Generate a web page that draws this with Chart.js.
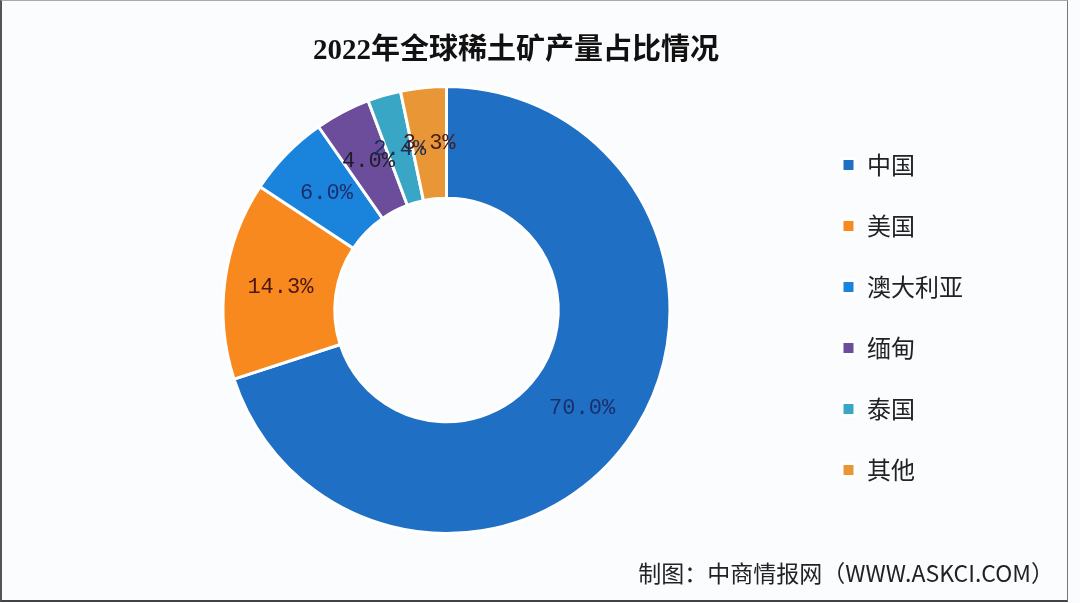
<!DOCTYPE html>
<html>
<head>
<meta charset="utf-8">
<script src="https://cdn.jsdelivr.net/npm/chart.js@4"></script>
<style>
  html, body { margin: 0; padding: 0; }
  body { width: 1080px; height: 603px; background: #fbfcfe; position: relative; overflow: hidden; }
  #frame { position: absolute; left: 0; top: 0; width: 1065px; height: 599px;
    border-left: 2px solid #555; border-top: 1px solid #aaa; border-bottom: 2px solid #444; border-right: 1px solid #777; }
  #title { position: absolute; left: 0; width: 1032px; top: 25px; text-align: center;
    font-family: "Liberation Serif", "Noto Sans CJK SC", sans-serif; font-weight: bold; font-size: 29px; color: #111; }
  #source { position: absolute; right: 26px; top: 555px;
    font-family: "Noto Sans CJK SC", sans-serif; font-size: 23px; color: #222; }
  #wrap { position: absolute; left: 0; top: 0; width: 1080px; height: 603px; }
  #pie { display: block; }
</style>
</head>
<body>
<div id="frame"></div>
<div id="wrap"><canvas id="pie" width="1080" height="603"></canvas></div>
<div id="title">2022年全球稀土矿产量占比情况</div>
<div id="source">制图：中商情报网（WWW.ASKCI.COM）</div>
<script>
// 2022 global rare earth mine output share (%)
const countries = ['中国', '美国', '澳大利亚', '缅甸', '泰国', '其他'];
const shares = [70.0, 14.3, 6.0, 4.0, 2.4, 3.3];

const sliceColors = ['#1f6fc4', '#f7891f', '#1a83dc', '#6b4d9c', '#3aa6c6', '#e99637'];
const labelColors = ['#1c2e6a', '#4a1616', '#1c2e6a', '#1e1e2a', '#1c2e5a', '#4a1c16'];

// draws the "70.0%" style labels in the middle of each slice
const sliceLabels = {
  id: 'sliceLabels',
  afterDatasetsDraw(chart) {
    const ctx = chart.ctx;
    const meta = chart.getDatasetMeta(0);
    ctx.save();
    ctx.font = '22px "Liberation Mono", "DejaVu Sans Mono", monospace';
    ctx.textAlign = 'center';
    ctx.textBaseline = 'middle';
    meta.data.forEach((arc, i) => {
      const pos = arc.tooltipPosition();
      ctx.fillStyle = labelColors[i];
      ctx.fillText(shares[i].toFixed(1) + '%', pos.x, pos.y);
    });
    ctx.restore();
  }
};

const ctx = document.getElementById('pie').getContext('2d');
new Chart(ctx, {
  type: 'doughnut',
  data: {
    labels: countries,
    datasets: [{
      data: shares,
      backgroundColor: sliceColors,
      borderColor: '#ffffff',
      borderWidth: 3,
      hoverOffset: 0
    }]
  },
  options: {
    responsive: false,
    animation: false,
    cutout: '50%',
    layout: { padding: { left: 88, right: 107, top: 85, bottom: 68 } },
    plugins: {
      title: { display: false },
      tooltip: { enabled: false },
      legend: {
        position: 'right',
        title: { display: true, text: '', padding: 0, font: { size: 15, lineHeight: 1 } },
        labels: {
          boxWidth: 13,
          boxHeight: 13,
          padding: 37,
          color: '#222',
          font: { family: '"Noto Sans CJK SC", sans-serif', size: 24 }
        }
      }
    }
  },
  plugins: [sliceLabels]
});
</script>
</body>
</html>
